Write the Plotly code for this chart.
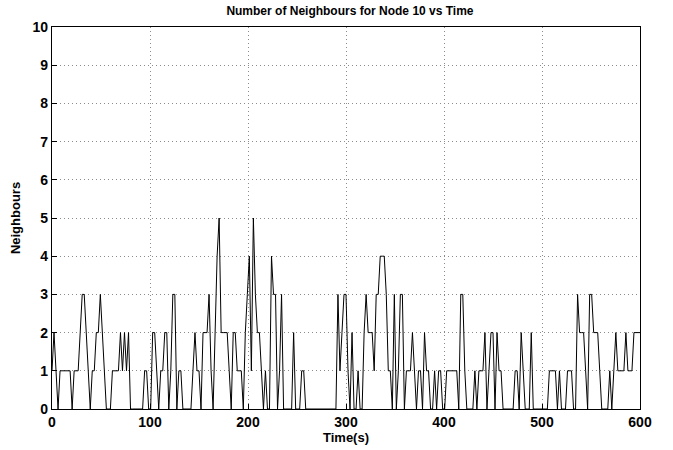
import numpy as np
import plotly.graph_objects as go

# Number of neighbours of node 10 (approx. every 2 s)
neighbours = [
    1, 2, 1, 0, 1, 1, 1, 1, 1, 1,
    0, 1, 1, 1, 2, 3, 3, 2, 1, 0,
    1, 1, 2, 2, 3, 2, 1, 0, 0, 0,
    1, 1, 1, 1, 2, 1, 2, 1, 2, 0,
    0, 0, 0, 0, 0, 0, 1, 1, 0, 0,
    2, 2, 1, 0, 1, 1, 2, 2, 0, 1,
    3, 3, 0, 1, 1, 0, 0, 0, 0, 0,
    1, 2, 1, 1, 0, 2, 2, 2, 3, 1,
    0, 2, 4, 5, 2, 2, 2, 2, 1, 0,
    2, 2, 1, 1, 1, 0, 2, 3, 4, 1,
    5, 3, 2, 2, 1, 0, 1, 0, 0, 4,
    3, 3, 0, 1, 3, 0, 0, 0, 0, 0,
    2, 0, 0, 0, 1, 1, 0, 0, 0, 0,
    0, 0, 0, 0, 0, 0, 0, 0, 0, 0,
    0, 0, 3, 1, 2, 3, 3, 1, 0, 2,
    0, 0, 1, 0, 0, 2, 3, 2, 2, 2,
    1, 3, 3, 4, 4, 4, 3, 1, 1, 0,
    3, 0, 1, 3, 3, 0, 1, 1, 1, 2,
    1, 0, 1, 1, 0, 2, 1, 1, 0, 0,
    1, 0, 1, 1, 0, 0, 1, 1, 1, 1,
    1, 1, 0, 3, 3, 1, 0, 0, 0, 0,
    1, 0, 1, 1, 1, 2, 0, 1, 2, 2,
    0, 2, 1, 1, 0, 0, 0, 0, 0, 0,
    1, 1, 0, 2, 1, 0, 0, 0, 2, 0,
    0, 0, 0, 0, 0, 0, 0, 1, 1, 1,
    1, 0, 1, 0, 0, 0, 1, 1, 1, 0,
    0, 3, 2, 2, 2, 1, 0, 3, 3, 2,
    2, 2, 1, 0, 0, 0, 0, 1, 0, 1,
    2, 1, 1, 1, 1, 2, 1, 1, 1, 2,
    2, 2, 2,
]
# regular sampling grid over the 600 s simulation
time_s = np.linspace(0, 600, len(neighbours))

x_ticks = [0, 100, 200, 300, 400, 500, 600]
y_ticks = list(range(0, 11))

FONT = "Liberation Sans, Arial, sans-serif"

fig = go.Figure()
fig.add_trace(go.Scatter(
    x=time_s, y=neighbours, mode="lines",
    line=dict(color="black", width=1),
    showlegend=False,
))

axis_common = dict(
    showline=True, linecolor="black", linewidth=1.3, mirror=True,
    ticks="inside", ticklen=5, tickcolor="black", tickwidth=1,
    showgrid=True, gridcolor="#8c8c8c", griddash="1px,3px", gridwidth=1,
    zeroline=False, automargin=False,
    tickfont=dict(family=FONT, size=14, color="black", weight="bold"),
)

fig.update_layout(
    width=673, height=450,
    margin=dict(l=52, r=33, t=27, b=41),
    paper_bgcolor="white", plot_bgcolor="white",
    title=dict(
        text="Number of Neighbours for Node 10 vs Time",
        font=dict(family=FONT, size=12, color="black", weight="bold"),
        x=0.52, xanchor="center", y=0.985, yanchor="top",
    ),
    xaxis=dict(
        range=[0, 600], tickvals=x_ticks,
        title=dict(text="Time(s)", standoff=2,
                   font=dict(family=FONT, size=13, color="black", weight="bold")),
        **axis_common,
    ),
    yaxis=dict(
        range=[0, 10], tickvals=y_ticks,
        title=dict(text="Neighbours", standoff=8,
                   font=dict(family=FONT, size=13, color="black", weight="bold")),
        **axis_common,
    ),
)

fig.write_html("out.html", config={"displayModeBar": False},
               post_script="document.body.style.margin='0px';")
